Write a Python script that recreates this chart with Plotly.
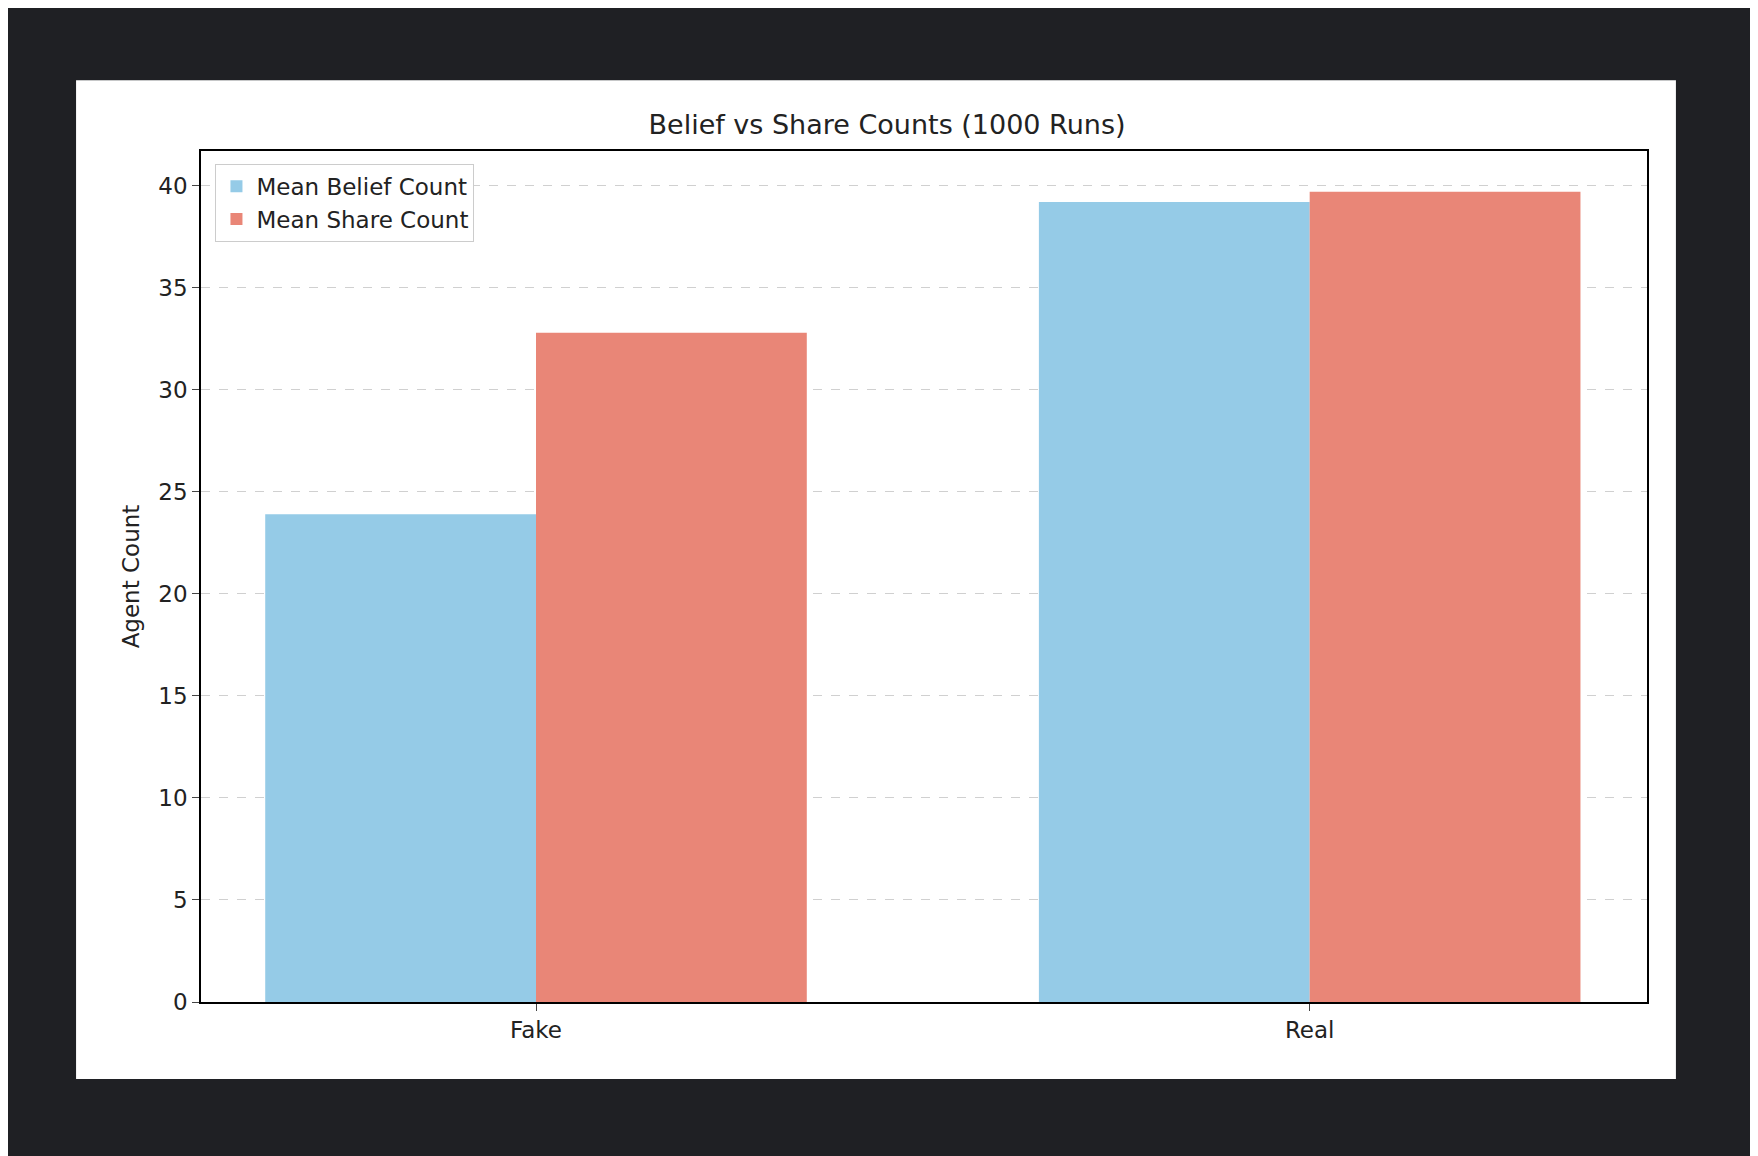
import plotly.graph_objects as go

categories = ["Fake", "Real"]
belief_counts = [23.9, 39.2]
share_counts = [32.8, 39.7]

fig = go.Figure()
fig.add_trace(go.Bar(x=categories, y=belief_counts, name="Mean Belief Count",
                     marker=dict(color="#95cbe7", line=dict(width=0))))
fig.add_trace(go.Bar(x=categories, y=share_counts, name="Mean Share Count",
                     marker=dict(color="#e98677", line=dict(width=0))))

# white figure panel on dark page
fig.add_shape(type="rect", xref="paper", yref="paper",
              x0=-0.0864, x1=1.020, y0=-0.0905, y1=1.083,
              fillcolor="white", line=dict(width=0), layer="below")

fig.update_layout(
    width=1758, height=1156,
    paper_bgcolor="#1f2024", plot_bgcolor="white",
    margin=dict(l=193, r=119, t=143, b=162),
    barmode="group", bargap=0.3, bargroupgap=0,
    font=dict(family="DejaVu Sans", size=22, color="#222"),
    title=dict(text="Belief vs Share Counts (1000 Runs)", x=0.5, xanchor="center",
               y=1 - 117 / 1156, yanchor="middle", font=dict(size=27, color="#222")),
    legend=dict(x=0.01, y=0.985, xanchor="left", yanchor="top",
                bgcolor="white", bordercolor="#ccc", borderwidth=1,
                font=dict(size=23), tracegroupgap=2),
    showlegend=True,
)
fig.update_xaxes(range=[-0.433, 1.436], showline=True, linecolor="black", linewidth=1.5,
                 mirror=True, ticks="outside", ticklen=7, tickfont=dict(size=23))
fig.update_yaxes(range=[0, 41.7], dtick=5, showline=True, linecolor="black", linewidth=1.5,
                 mirror=True, ticks="outside", ticklen=7, tickfont=dict(size=23),
                 showgrid=True, gridcolor="#d0d0d0", griddash="dash", zeroline=False,
                 title=dict(text="Agent Count", font=dict(size=23), standoff=12))

fig.write_html("out.html")
